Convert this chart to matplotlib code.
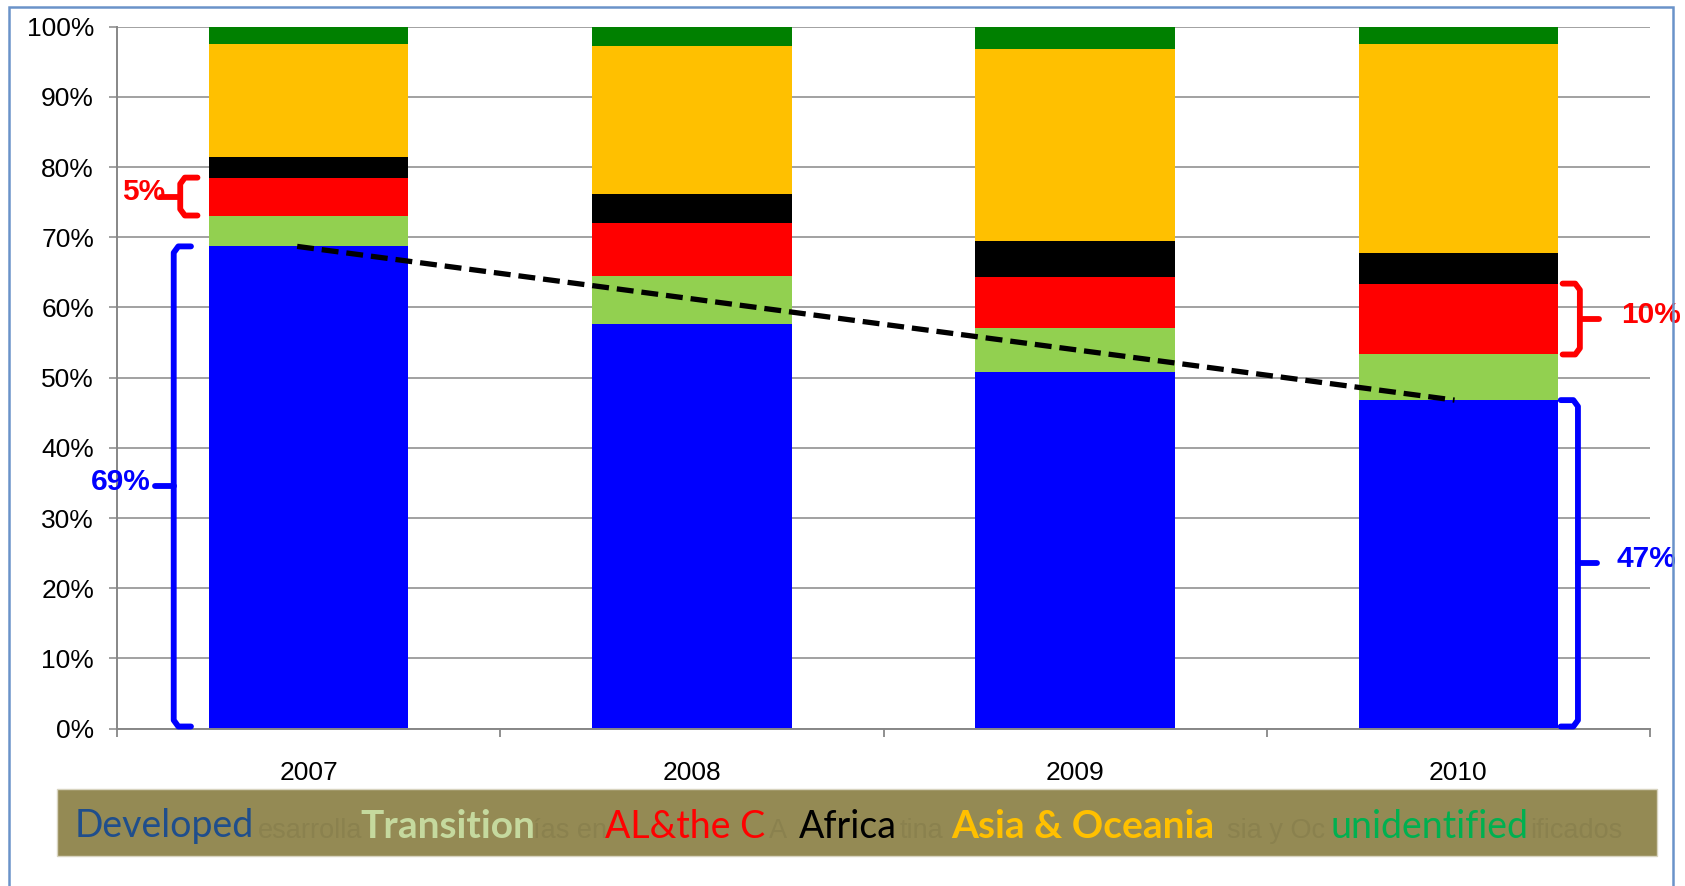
#!/usr/bin/env python3
"""
plot.py
=======
Stacked 100% bars: share of each region per year, 2007-2010,
with brace call-outs on the Developed and AL&the C segments.

Saves
-----
  out.png
"""

import matplotlib
matplotlib.use("Agg")
import matplotlib.pyplot as plt
import numpy as np
from matplotlib.patches import Rectangle
from matplotlib.ticker import PercentFormatter

# ── Data (percent of total, bottom -> top) ────────────────────────────────────
YEARS        = ["2007", "2008", "2009", "2010"]
DEVELOPED    = [68.7, 57.6, 50.8, 46.8]
TRANSITION   = [4.4, 6.9, 6.3, 6.5]
AL_CARIBBEAN = [5.4, 7.6, 7.2, 10.1]
AFRICA       = [3.0, 4.0, 5.2, 4.3]
ASIA_OCEANIA = [16.1, 21.1, 27.3, 29.8]
UNIDENTIFIED = [2.4, 2.8, 3.2, 2.5]

SERIES_LABELS = ["Developed", "Transition", "AL&the C", "Africa",
                 "Asia & Oceania", "unidentified"]
# pieces of the Spanish captions left showing between the English names
SPANISH_BITS  = ["esarrolla", "ías en", "A", "tina", "sia y Oc", "ificados"]

# ── Style ─────────────────────────────────────────────────────────────────────
BAR_COLORS  = ["#0000FF", "#92D050", "#FF0000", "#000000", "#FFC000", "#008000"]
TEXT_COLORS = ["#1F4E8C", "#C5D99E", "#FF0000", "#000000", "#FFC000", "#00B050"]
TEXT_BOLD   = [False, True, False, False, True, False]
TEXT_X_PX   = [75, 360, 605, 799, 951, 1330]       # left edge of each name
GHOST_X_PX  = [258, 533, 769, 900, 1227, 1530]
OLIVE       = "#948A54"
GHOST       = "#8A814E"
GRID        = "#878787"
BORDER      = "#6A93C9"

W_PX, H_PX, DPI = 1685, 886, 100
BAR_WIDTH = 0.52


def _brace(ax, x, y0, y1, side, color, label, label_x, hook=0.045, tick=0.05):
    """Bracket from y0 to y1 with a centre tick and a bold label.

    side = -1 puts the tick on the left (hooks point right), +1 the reverse.
    """
    ym = (y0 + y1) / 2
    r, ry = 0.012, 0.9      # corner rounding in x / y units
    hx = -side * hook
    xs = [x + hx, x - side * r, x, x, x - side * r, x + hx]
    ys = [y0, y0, y0 + ry, y1 - ry, y1, y1]
    ax.plot(xs, ys, color=color, lw=4.2, solid_capstyle="round",
            solid_joinstyle="round", clip_on=False, zorder=6)
    ax.plot([x, x + side * tick], [ym, ym], color=color, lw=4.2,
            solid_capstyle="round", clip_on=False, zorder=6)
    ax.text(label_x, ym + 0.6, label, color=color, fontsize=21.5,
            fontweight="bold", family="Liberation Sans",
            ha="center", va="center", clip_on=False, zorder=7)


def main() -> None:
    fig = plt.figure(figsize=(W_PX / DPI, H_PX / DPI), dpi=DPI)
    fig.patch.set_facecolor("white")

    ax = fig.add_axes([117 / W_PX, 1 - 728.6 / H_PX,
                       (1650 - 117) / W_PX, (728.6 - 26.7) / H_PX])

    # ── Stacked bars ──────────────────────────────────────────────────────────
    series = [DEVELOPED, TRANSITION, AL_CARIBBEAN, AFRICA,
              ASIA_OCEANIA, UNIDENTIFIED]
    x = np.arange(len(YEARS))
    bottom = np.zeros(len(YEARS))
    for vals, col in zip(series, BAR_COLORS):
        ax.bar(x, vals, BAR_WIDTH, bottom=bottom, color=col,
               edgecolor="none", zorder=3)
        bottom += np.asarray(vals)

    # ── Axes ──────────────────────────────────────────────────────────────────
    ax.set_xlim(-0.5, len(YEARS) - 0.5)
    ax.set_ylim(0, 100)
    ax.set_yticks(np.arange(0, 101, 10))
    ax.yaxis.set_major_formatter(PercentFormatter(decimals=0))
    ax.set_xticks(x)
    ax.set_xticklabels(YEARS)
    ax.set_xticks(np.arange(-0.5, len(YEARS)), minor=True)
    ax.tick_params(axis="x", which="major", length=0, pad=23, labelsize=19)
    ax.tick_params(axis="x", which="minor", length=5.5, width=1.3,
                   color=GRID, direction="out")
    ax.tick_params(axis="y", length=5.5, width=1.1, color=GRID,
                   pad=11, labelsize=19)
    for lab in ax.get_xticklabels() + ax.get_yticklabels():
        lab.set_family("Liberation Sans")
    ax.yaxis.grid(True, color=GRID, lw=1.1, zorder=0)
    for side in ("top", "right"):
        ax.spines[side].set_visible(False)
    for side in ("left", "bottom"):
        ax.spines[side].set_color(GRID)
        ax.spines[side].set_linewidth(1.4)
        ax.spines[side].set_zorder(4)

    # ── Trend of the Developed share ──────────────────────────────────────────
    ax.plot([x[0] - 0.03, x[-1] - 0.01], [DEVELOPED[0], DEVELOPED[-1]],
            color="black", lw=3.8, dashes=(3.2, 1.5), zorder=5)

    # ── Brace call-outs ───────────────────────────────────────────────────────
    half = BAR_WIDTH / 2
    blue, red = BAR_COLORS[0], BAR_COLORS[2]

    lo = DEVELOPED[0] + TRANSITION[0]
    _brace(ax, x[0] - half - 0.075, lo, lo + AL_CARIBBEAN[0], -1, red,
           f"{AL_CARIBBEAN[0]:.0f}%", x[0] - half - 0.17)
    _brace(ax, x[0] - half - 0.092, 0.3, DEVELOPED[0], -1, blue,
           f"{DEVELOPED[0]:.0f}%", x[0] - half - 0.23)

    lo = DEVELOPED[-1] + TRANSITION[-1]
    _brace(ax, x[-1] + half + 0.057, lo, lo + AL_CARIBBEAN[-1], 1, red,
           f"{AL_CARIBBEAN[-1]:.0f}%", x[-1] + half + 0.243)
    _brace(ax, x[-1] + half + 0.052, 0.3, DEVELOPED[-1], 1, blue,
           f"{DEVELOPED[-1]:.0f}%", x[-1] + half + 0.23)

    # ── Legend strip ──────────────────────────────────────────────────────────
    fig.patches.append(Rectangle(
        (56.7 / W_PX, 1 - 856 / H_PX), (1657.3 - 56.7) / W_PX, 66.7 / H_PX,
        transform=fig.transFigure, facecolor=OLIVE, edgecolor="#D8D4C0",
        lw=1.0, zorder=1))
    base_y = 1 - 837.5 / H_PX
    for bit, gx in zip(SPANISH_BITS, GHOST_X_PX):
        fig.text(gx / W_PX, base_y, bit, color=GHOST, fontsize=19.5,
                 family="Liberation Sans", va="baseline", zorder=2)
    for name, col, bold, tx in zip(SERIES_LABELS, TEXT_COLORS,
                                   TEXT_BOLD, TEXT_X_PX):
        fig.text(tx / W_PX, base_y, name, color=col,
                 fontsize=28 if bold else 27, family="Lato",
                 fontweight="bold" if bold else "normal",
                 va="baseline", zorder=3)

    # ── Outer frame ───────────────────────────────────────────────────────────
    fig.patches.append(Rectangle(
        (9 / W_PX, -0.02), (1673 - 9) / W_PX, 1 - 7 / H_PX + 0.02,
        transform=fig.transFigure, fill=False, edgecolor=BORDER,
        lw=1.8, zorder=10))

    fig.savefig("out.png", dpi=DPI)
    plt.close(fig)


if __name__ == "__main__":
    main()
